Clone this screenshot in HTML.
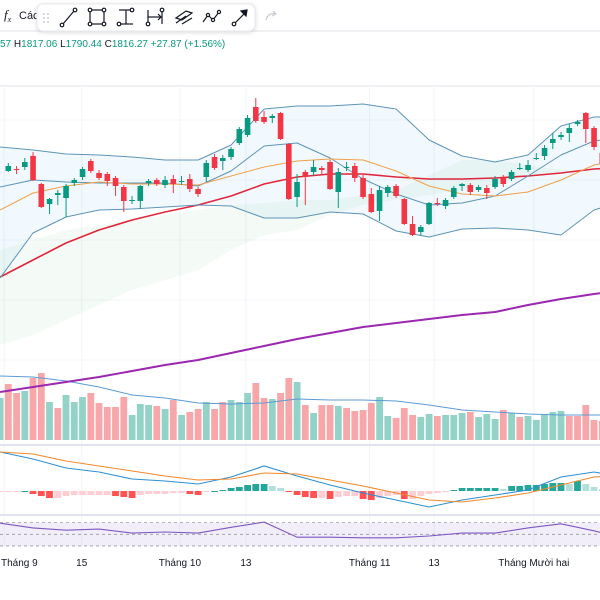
<!DOCTYPE html>
<html><head><meta charset="utf-8"><style>
html,body{margin:0;padding:0;background:#fff;width:600px;height:600px;overflow:hidden}
svg{display:block;font-family:"Liberation Sans",sans-serif}
</style></head><body>
<svg id="c" width="600" height="600" viewBox="0 0 600 600" xmlns="http://www.w3.org/2000/svg">
<rect x="0" y="0" width="600" height="600" fill="#fff"/>
<g>
<text x="4" y="19" font-size="13" fill="#131722" font-family="Liberation Serif,serif" font-style="italic">f<tspan font-size="8" dy="3">x</tspan></text>
<text x="19" y="19" font-size="11" fill="#131722">Các</text>
<line x1="0" y1="31" x2="600" y2="31" stroke="#e0e3eb"/>
<rect x="37" y="4" width="218" height="27" rx="6" fill="#fff" stroke="#e6e8ee" style="filter:drop-shadow(0 1px 2px rgba(0,0,0,0.15))"/>
<g fill="#c8cbd3"><circle cx="44" cy="14" r="1"/><circle cx="48" cy="14" r="1"/><circle cx="44" cy="18" r="1"/><circle cx="48" cy="18" r="1"/><circle cx="44" cy="22" r="1"/><circle cx="48" cy="22" r="1"/></g>
<g stroke="#131722" stroke-width="1.2" fill="none">
<g><line x1="63" y1="24" x2="74" y2="11"/><circle cx="62" cy="25" r="1.8" fill="#fff"/><circle cx="75" cy="10" r="1.8" fill="#fff"/></g>
<g><rect x="90" y="10" width="14" height="14"/><circle cx="90" cy="10" r="1.8" fill="#fff"/><circle cx="104" cy="10" r="1.8" fill="#fff"/><circle cx="90" cy="24" r="1.8" fill="#fff"/><circle cx="104" cy="24" r="1.8" fill="#fff"/></g>
<g><line x1="119" y1="10" x2="131" y2="10"/><line x1="119" y1="24" x2="133" y2="24"/><line x1="126" y1="10" x2="126" y2="24"/><circle cx="132" cy="10" r="1.8" fill="#fff"/><circle cx="119" cy="24" r="1.8" fill="#fff"/></g>
<g><line x1="148" y1="10" x2="148" y2="24"/><line x1="162" y1="10" x2="162" y2="24"/><line x1="148" y1="17" x2="161" y2="17"/><path d="M158 14 L161 17 L158 20"/><circle cx="148" cy="24" r="1.8" fill="#fff"/><circle cx="162" cy="10" r="1.8" fill="#fff"/></g>
<g><path d="M176 18 L186 11 L192 13 L182 20 Z"/><path d="M176 23 L186 16 M182 24 L192 18"/></g>
<g><path d="M203 22 L208 15 L213 20 L219 12"/><circle cx="208" cy="15" r="1.6" fill="#fff"/><circle cx="213" cy="20" r="1.6" fill="#fff"/><circle cx="219" cy="12" r="1.6" fill="#fff"/></g>
<g><line x1="234" y1="24" x2="246" y2="12"/><path d="M241 11 L247 10 L246 16 Z" fill="#131722"/><circle cx="234" cy="24" r="1.8" fill="#fff"/></g>
</g>
<path d="M266 20 Q268 12 276 14 M273 11 L276 14 L272 16" stroke="#c8cbd3" stroke-width="1.2" fill="none"/>
</g>
<text x="0" y="47" font-size="10" fill="#089981">57 <tspan fill="#131722">H</tspan>1817.06 <tspan fill="#131722">L</tspan>1790.44 <tspan fill="#131722">C</tspan>1816.27 <tspan>+27.87 (+1.56%)</tspan></text>
<line x1="0" y1="86" x2="600" y2="86" stroke="#e0e3eb"/>
<g id="grid"></g>
<g id="main"></g>
<line x1="0" y1="445" x2="600" y2="445" stroke="#e0e3eb" stroke-width="2"/>
<g id="macd"></g>
<line x1="0" y1="515" x2="600" y2="515" stroke="#e0e3eb" stroke-width="2"/>
<g id="rsi"></g>
<g id="taxis"></g>
</svg>
<script>
// ===== data =====
const opens  = [1809,1811,1813,1824,1796,1776,1785,1782,1797,1803,1819,1807,1806,1802,1793,1779,1779,1797,1800,1795,1801,1798,1801,1791,1803,1823,1819,1823,1837,1845,1873,1863,1862,1867,1836,1783,1808,1808,1812,1818,1788,1812,1814,1802,1786,1769,1787,1794,1781,1756,1748,1756,1777,1774,1783,1794,1795,1790,1792,1793,1802,1801,1811,1810,1821,1824,1837,1843,1847,1856,1867,1852,1827];
const closes = [1814,1810,1818,1800,1773,1781,1787,1794,1800,1811,1809,1802,1799,1794,1779,1780,1794,1799,1796,1800,1796,1799,1791,1786,1817,1812,1822,1831,1851,1862,1859,1858,1864,1841,1781,1798,1803,1813,1810,1791,1808,1813,1802,1783,1768,1790,1793,1784,1756,1745,1753,1777,1776,1780,1792,1796,1788,1793,1787,1801,1796,1808,1812,1815,1822,1832,1841,1845,1852,1858,1851,1833,1816];
const highs  = [1817,1814,1822,1828,1797,1782,1790,1796,1802,1813,1821,1810,1808,1804,1795,1784,1795,1801,1802,1804,1805,1804,1806,1793,1820,1826,1825,1833,1853,1865,1882,1869,1866,1868,1837,1806,1810,1820,1814,1820,1812,1818,1817,1805,1792,1794,1795,1796,1782,1764,1755,1778,1782,1782,1794,1797,1797,1795,1795,1804,1805,1810,1817,1820,1827,1835,1847,1848,1856,1860,1868,1854,1830];
const lows   = [1808,1806,1810,1799,1772,1766,1775,1763,1794,1800,1807,1800,1794,1784,1768,1776,1771,1794,1794,1792,1787,1795,1788,1783,1798,1810,1810,1820,1835,1843,1857,1856,1857,1840,1780,1773,1775,1804,1805,1790,1772,1809,1798,1781,1767,1759,1783,1782,1755,1744,1744,1755,1774,1771,1781,1789,1785,1788,1781,1791,1793,1799,1810,1808,1820,1820,1831,1840,1838,1854,1837,1830,1818];
// line series sampled at candle indices
const lineIdx = [-1,3,7,11,15,19,23,27,31,35,39,43,47,51,55,59,63,67,71,73];
const bbUpper = [1833,1830,1826,1825,1823,1820,1820,1835,1871,1874,1874,1876,1871,1840,1824,1818,1825,1854,1863,1863];
const bbLower = [1702,1747,1763,1770,1771,1773,1775,1774,1762,1762,1768,1766,1749,1743,1751,1752,1750,1745,1770,1775];
const bbBasis = [1770,1787,1794,1798,1796,1796,1795,1804,1813,1819,1821,1820,1809,1794,1786,1784,1788,1800,1815,1818];
const emaBlue = [1793,1800,1798,1797,1797,1797,1794,1809,1834,1837,1822,1801,1786,1775,1777,1784,1804,1825,1839,1841];
const maRed   = [1703,1720,1737,1750,1760,1768,1775,1784,1796,1803,1806,1806,1803,1801,1801,1802,1804,1807,1811,1812];
const maPurple= [1588,1593,1598,1603,1609,1615,1620,1627,1634,1641,1647,1653,1657,1661,1665,1668,1675,1681,1686,1688];
const cloudA  = [1730,1740,1750,1755,1760,1765,1770,1775,1777,1780,1780,1785,1790,1805,1820,1820,1815,1810,1809,1809];
const cloudB  = [1635,1645,1660,1675,1690,1700,1710,1730,1745,1750,1765,1775,1780,1785,1790,1795,1805,1808,1809,1809];
// volume / MACD histogram indexed from candle -1
const volumes = [42,56,47,49,62,67,38,32,45,38,43,47,37,33,33,43,25,36,35,34,31,40,25,28,31,38,31,38,40,38,47,57,42,41,47,62,58,35,27,35,35,34,32,29,30,37,43,24,22,32,25,23,26,24,25,25,27,28,23,26,21,30,27,23,24,20,25,28,29,24,24,35,20,19];
const volUp   = ["g","r","r","g","r","r","g","r","g","g","g","r","r","r","r","r","g","g","g","r","g","r","g","r","r","g","r","r","g","g","g","r","r","g","r","r","g","r","g","r","r","g","r","r","r","r","g","g","r","r","r","g","g","r","g","g","g","r","g","g","g","r","g","r","g","g","g","g","g","r","r","r","r","r"];
const volMA   = [64,63,59,53,45,42,37,36,37,41,40,40,39,35,30,28,26,25,25,25];
const macdLine   = [39,32,23,19,12,10,7,14,25,15,6,-2,-9,-16,-9,-4,1,14,19,16];
const signalLine = [39,37,30,25,20,15,11,12,18,17,11,5,-2,-9,-11,-7,-2,6,14,15];
const histogram  = [-1,-1,-1,0,-3,-5,-7,-7,-5,-4,-4,-4,-4,-4,-5,-6,-7,-4,-3,-3,-3,-2,-2,-3,-4,-1,0,1,3,4,6,7,7,5,3,-1,-4,-6,-7,-7,-8,-6,-5,-5,-8,-9,-7,-5,-4,-8,-8,-5,-3,-2,-1,1,3,3,3,3,3,2,5,5,6,6,7,8,8,7,10,7,4,2];
const rsiValues  = [69,61,57,59,52,54,52,62,71,45,45,44,44,47,52,52,61,68,56,49];
const timeLabels = ["Tháng 9","15","Tháng 10","13","Tháng 11","13","Tháng Mười hai","1"];
const timeLabelIdx = [-0.5,8.9,20.8,28.8,43.8,51.6,63.7,71.8];

// ===== scales =====
const NS="http://www.w3.org/2000/svg";
const xAt = i => 8.3 + 8.25*i;
const yP = p => 80 + (1900 - p);
const yV = v => 440 - v;
const yM = v => 491 - v;
const yR = v => 534.3 - (v-50)*0.583;
function el(tag, attrs, parent){const e=document.createElementNS(NS,tag);for(const k in attrs)e.setAttribute(k,attrs[k]);parent.appendChild(e);return e;}
function pathFrom(idx, vals, ys){return idx.map((ix,j)=>(j?'L':'M')+xAt(ix).toFixed(1)+' '+ys(vals[j]).toFixed(1)).join(' ');}

const grid=document.getElementById('grid');
timeLabelIdx.forEach((ix,j)=>{
  const g=el('line',{x1:xAt(ix),x2:xAt(ix),y1:87,y2:548,stroke:'#f0f3fa'},grid);
  
  
});
[120,180,240,300,360,420].forEach(y=>{
  const g=el('line',{x1:0,x2:600,y1:y,y2:y,stroke:'#f3f5fa'},grid);
  
  
});

const main=document.getElementById('main');
{
  let d=pathFrom(lineIdx,cloudA,yP);
  for(let j=lineIdx.length-1;j>=0;j--) d+=' L'+xAt(lineIdx[j]).toFixed(1)+' '+yP(cloudB[j]).toFixed(1);
  const c=el('path',{d:d+' Z',fill:'rgba(76,175,80,0.06)'},main);
  
  
}
{
  let d=pathFrom(lineIdx,bbUpper,yP);
  for(let j=lineIdx.length-1;j>=0;j--) d+=' L'+xAt(lineIdx[j]).toFixed(1)+' '+yP(bbLower[j]).toFixed(1);
  const c=el('path',{d:d+' Z',fill:'rgba(33,150,243,0.06)'},main);
  
  
}
volumes.forEach((v,k)=>{
  const x=xAt(k-1);
  const r=el('rect',{x:(x-3.4).toFixed(1),y:yV(v).toFixed(1),width:6.8,height:v,fill:volUp[k]==='g'?'#92d2c7':'#f7a6a9'},main);
  
  
});
{
  const p=el('path',{d:pathFrom(lineIdx,volMA,yV),stroke:'#5b9bd5',fill:'none','stroke-width':1},main);
  
  
}
[[maPurple,'#9c27b0',2,'ma-purple-line'],[maRed,'#e0263a',1.6,'ma-red-line'],[bbUpper,'#5e94b8',1,'bollinger-upper'],[bbLower,'#5e94b8',1,'bollinger-lower'],[emaBlue,'#5e94b8',1,'ema-blue-line'],[bbBasis,'#f0a04b',1,'bollinger-basis']].forEach(s=>{
  const p=el('path',{d:pathFrom(lineIdx,s[0],yP),stroke:s[1],'stroke-width':s[2],fill:'none','stroke-linejoin':'round'},main);
  
  
});
opens.forEach((o,i)=>{
  const c=closes[i],up=c>=o,col=up?'#089981':'#f23645',x=xAt(i);
  const g=el('g',{},main);
  
  
  el('line',{x1:x,x2:x,y1:yP(highs[i]),y2:yP(lows[i]),stroke:col,'stroke-width':1},g);
  const top=yP(Math.max(o,c)),h=Math.max(1,Math.abs(o-c));
  el('rect',{x:x-2.8,y:top,width:5.6,height:h,fill:col},g);
});

const macd=document.getElementById('macd');
histogram.forEach((v,k)=>{
  const prev=k?histogram[k-1]:v;let col;
  if(v>=0) col=v>=prev?'#26a69a':'#b2dfdb'; else col=v<prev?'#ff5252':'#ffcdd2';
  const x=xAt(k-1),h=Math.max(1,Math.abs(v));
  const r=el('rect',{x:(x-3.4).toFixed(1),y:v>=0?yM(v):yM(0),width:6.8,height:h,fill:col},macd);
  
  
});
{
  const a=el('path',{d:pathFrom(lineIdx,macdLine,yM),stroke:'#2e8fd0','stroke-width':1.1,fill:'none'},macd);
  
  
  const b=el('path',{d:pathFrom(lineIdx,signalLine,yM),stroke:'#f0892b','stroke-width':1.1,fill:'none'},macd);
  
  
}
const rsi=document.getElementById('rsi');
{
  const f=el('rect',{x:0,y:yR(70),width:600,height:yR(30)-yR(70),fill:'rgba(126,87,194,0.1)'},rsi);
  
  
  [70,50,30].forEach(v=>{
    const l=el('line',{x1:0,x2:600,y1:yR(v),y2:yR(v),stroke:'#9598a1','stroke-dasharray':'3,3','stroke-width':0.8},rsi);
    
    
  });
  const p=el('path',{d:pathFrom(lineIdx,rsiValues,yR),stroke:'#7e57c2','stroke-width':1.1,fill:'none'},rsi);
  
  
}
const tx=document.getElementById('taxis');
timeLabels.forEach((t,j)=>{
  const x=xAt(timeLabelIdx[j]);
  const e=el('text',{x:j===0?1:x,y:566,'font-size':10,fill:'#131722','text-anchor':j===0?'start':(j===timeLabels.length-1?'start':'middle')},tx);
  e.textContent=t;
  
  
});
</script>
</body></html>
